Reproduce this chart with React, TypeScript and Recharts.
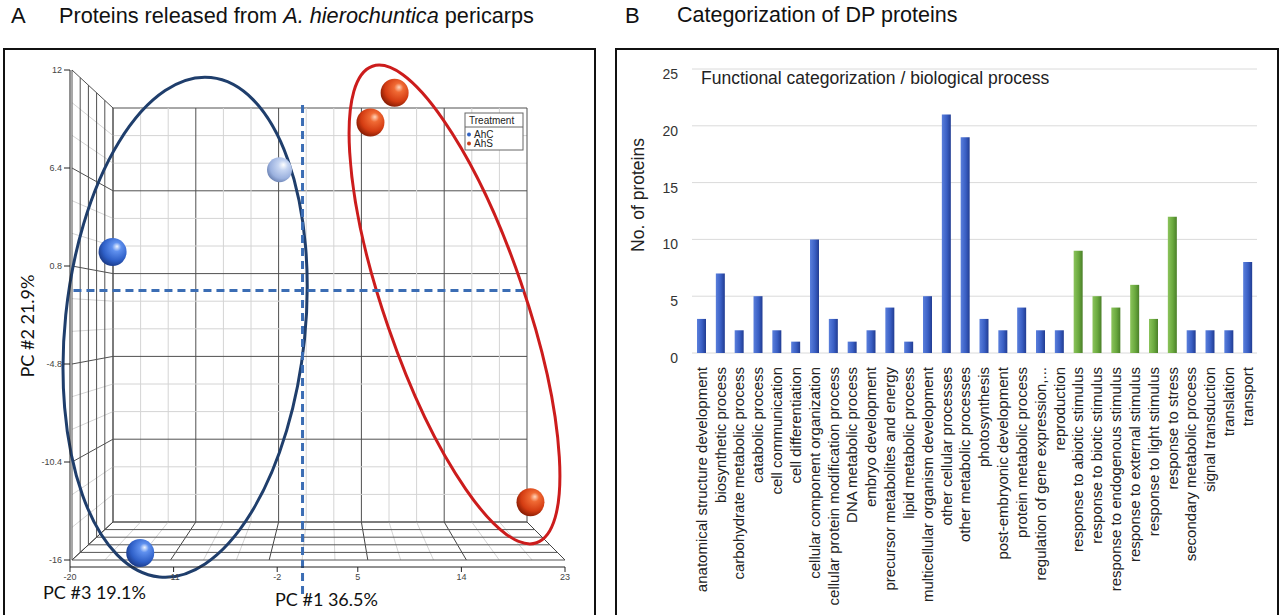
import {
  ScatterChart,
  Scatter,
  BarChart,
  Bar,
  Cell,
  XAxis,
  YAxis,
  CartesianGrid,
  ReferenceLine,
  Customized,
} from "recharts";

// ---- panel A: PCA scores (PC1 / PC2, projected) ----
const pcaGroups = ["AhC", "AhS"];
const ahcSamples = ["AhC1", "AhC2", "AhC3"];
const ahcPC1 = [-16.3, -1.8, -13.9];
const ahcPC2 = [1.6, 6.3, -15.6];
const ahsSamples = ["AhS1", "AhS2", "AhS3"];
const ahsPC1 = [8.2, 6.1, 20.0];
const ahsPC2 = [10.7, 9.0, -12.7];
const pc1Ticks = [-20, -11, -2, 5, 14, 23];
const pc2Ticks = [-16, -10.4, -4.8, 0.8, 6.4, 12];
const pc1Cut = 0.2;
const pc2Cut = -0.6;
const groupCenterPC1 = [-10.0, 13.4];
const groupCenterPC2 = [-2.7, -1.4];

// ---- panel B: DP proteins per biological process ----
const categories = [
  "anatomical structure development",
  "biosynthetic process",
  "carbohydrate metabolic process",
  "catabolic process",
  "cell communication",
  "cell differentiation",
  "cellular component organization",
  "cellular protein modification process",
  "DNA metabolic process",
  "embryo development",
  "precursor metabolites and energy",
  "lipid metabolic process",
  "multicellular organism development",
  "other cellular processes",
  "other metabolic processes",
  "photosynthesis",
  "post-embryonic development",
  "protein metabolic process",
  "regulation of gene expression,...",
  "reproduction",
  "response to abiotic stimulus",
  "response to biotic stimulus",
  "response to endogenous stimulus",
  "response to external stimulus",
  "response to light stimulus",
  "response to stress",
  "secondary metabolic process",
  "signal transduction",
  "translation",
  "transport",
];
const proteinCounts = [
  3, 7, 2, 5, 2, 1, 10, 3, 1, 2, 4, 1, 5, 21, 19, 3, 2, 4, 2, 2, 9, 5, 4, 6, 3,
  12, 2, 2, 2, 8,
];
const countTicks = [0, 5, 10, 15, 20, 25];

const ahcData = ahcSamples.map((s, i) => ({ sample: s, x: ahcPC1[i], y: ahcPC2[i] }));
const ahsData = ahsSamples.map((s, i) => ({ sample: s, x: ahsPC1[i], y: ahsPC2[i] }));
const barData = categories.map((c, i) => ({ category: c, count: proteinCounts[i] }));

// panel A geometry (chart svg sits at page 0,0)
const A_W = 594;
const A_H = 615;
const PX0 = 70;
const PX1 = 565;
const PY0 = 70;
const PY1 = 567;
const xDom: [number, number] = [-20, 23];
const yDom: [number, number] = [-16.4, 12];
const sx = (v: number) => PX0 + ((v - xDom[0]) / (xDom[1] - xDom[0])) * (PX1 - PX0);
const sy = (v: number) => PY1 - ((v - yDom[0]) / (yDom[1] - yDom[0])) * (PY1 - PY0);
const lerp = (a: number, b: number, t: number) => a + (b - a) * t;

const SANS = "'Liberation Sans', Arial, sans-serif";
const CAL = "Lato, 'Open Sans', sans-serif";

const Box3D = () => {
  const out: any[] = [];
  const major = "#505050";
  const minor = "#d4d4d4";
  // back wall
  for (let i = 0; i <= 15; i++) {
    const c = i % 3 === 0 ? major : minor;
    const x = lerp(113, 527, i / 15);
    const y = lerp(108, 522, i / 15);
    out.push(<line key={"bv" + i} x1={x} y1={108} x2={x} y2={522} stroke={c} />);
    out.push(<line key={"bh" + i} x1={113} y1={y} x2={527} y2={y} stroke={c} />);
  }
  // left wall
  for (let i = 0; i <= 15; i++) {
    const c = i % 3 === 0 ? major : minor;
    out.push(
      <line key={"lh" + i} x1={72} y1={lerp(70, 560, i / 15)} x2={113} y2={lerp(108, 522, i / 15)} stroke={c} />
    );
  }
  for (let j = 0; j <= 5; j++) {
    const f = j / 5;
    out.push(
      <line key={"lv" + j} x1={lerp(72, 113, f)} y1={lerp(70, 108, f)} x2={lerp(72, 113, f)} y2={lerp(560, 522, f)} stroke={major} />
    );
  }
  // floor
  for (let i = 0; i <= 15; i++) {
    const c = i % 3 === 0 ? "#444" : minor;
    out.push(
      <line key={"fd" + i} x1={lerp(113, 527, i / 15)} y1={522} x2={lerp(72, 565, i / 15)} y2={560} stroke={c} />
    );
  }
  for (let j = 0; j <= 5; j++) {
    const f = j / 5;
    out.push(
      <line key={"fh" + j} x1={lerp(113, 72, f)} y1={lerp(522, 560, f)} x2={lerp(527, 565, f)} y2={lerp(522, 560, f)} stroke="#555" />
    );
  }
  return (
    <g>
      <defs>
        <radialGradient id="sphBlue" cx="60%" cy="38%" r="65%" fx="66%" fy="30%">
          <stop offset="0%" stopColor="#eef4ff" />
          <stop offset="25%" stopColor="#5f90ee" />
          <stop offset="70%" stopColor="#2f60c8" />
          <stop offset="100%" stopColor="#1a3a88" />
        </radialGradient>
        <radialGradient id="sphPale" cx="60%" cy="38%" r="65%" fx="66%" fy="30%">
          <stop offset="0%" stopColor="#ffffff" />
          <stop offset="30%" stopColor="#c6d5f2" />
          <stop offset="75%" stopColor="#9cb2df" />
          <stop offset="100%" stopColor="#6d84b4" />
        </radialGradient>
        <radialGradient id="sphRed" cx="60%" cy="38%" r="65%" fx="66%" fy="30%">
          <stop offset="0%" stopColor="#ffd6bc" />
          <stop offset="25%" stopColor="#f06a34" />
          <stop offset="70%" stopColor="#d43c12" />
          <stop offset="100%" stopColor="#861c04" />
        </radialGradient>
      </defs>
      {out}
    </g>
  );
};

const GroupEllipses = () => (
  <g fill="none" strokeWidth={3}>
    <ellipse
      cx={sx(groupCenterPC1[0])}
      cy={sy(groupCenterPC2[0])}
      rx={120}
      ry={251}
      stroke="#1f3e6c"
      transform={`rotate(5.9 ${sx(groupCenterPC1[0])} ${sy(groupCenterPC2[0])})`}
    />
    <ellipse
      cx={sx(groupCenterPC1[1])}
      cy={sy(groupCenterPC2[1])}
      rx={70}
      ry={252}
      stroke="#cc1c1c"
      transform={`rotate(-19 ${sx(groupCenterPC1[1])} ${sy(groupCenterPC2[1])})`}
    />
  </g>
);

const PcaLabels = () => (
  <g>
    <rect x={465} y={113} width={58} height={37} fill="#fff" stroke="#666" />
    <line x1={465} y1={127} x2={523} y2={127} stroke="#666" />
    <text x={469} y={124} fontSize={10} fontFamily={SANS} fill="#222">Treatment</text>
    {pcaGroups.map((g, i) => (
      <g key={g}>
        <circle cx={469} cy={134.5 + i * 9} r={2} fill={i === 0 ? "#3264c4" : "#c8401c"} />
        <text x={474} y={138 + i * 9} fontSize={10} fontFamily={SANS} fill="#222">{g}</text>
      </g>
    ))}
    <text
      x={27}
      y={326}
      fontSize={18}
      fontFamily={CAL}
      fill="#111"
      textAnchor="middle"
      dominantBaseline="central"
      transform="rotate(-90 27 326)"
    >
      PC #2 21.9%
    </text>
    <text x={43} y={599} fontSize={18} fontFamily={CAL} fill="#111">PC #3 19.1%</text>
    <text x={275} y={606} fontSize={18} fontFamily={CAL} fill="#111">PC #1 36.5%</text>
  </g>
);

const sphere = (props: any) => {
  const { cx, cy, payload } = props;
  const id = payload.sample.startsWith("AhS") ? "sphRed" : payload.sample === "AhC2" ? "sphPale" : "sphBlue";
  return <circle cx={cx} cy={cy} r={payload.sample === "AhC2" ? 12.5 : 14} fill={`url(#${id})`} />;
};

const CategoryTick = (props: any) => {
  const { x, y, payload } = props;
  return (
    <g transform={`translate(${x},${y + 12})`}>
      <text
        x={0}
        y={0}
        dy="0.35em"
        textAnchor="end"
        transform="rotate(-90)"
        fontSize={15}
        fontFamily={SANS}
        fill="#222"
      >
        {payload.value}
      </text>
    </g>
  );
};

const BarTexts = () => (
  <g fontFamily={SANS} fill="#222">
    <text x={87} y={34} fontSize={17.5}>Functional categorization / biological process</text>
    <text
      x={24}
      y={145}
      fontSize={17.5}
      textAnchor="middle"
      dominantBaseline="central"
      transform="rotate(-90 24 145)"
    >
      No. of proteins
    </text>
  </g>
);

export default function App() {
  return (
    <div
      style={{
        position: "absolute",
        left: 0,
        top: 0,
        width: 1282,
        height: 615,
        background: "#fff",
        overflow: "hidden",
        fontFamily: SANS,
      }}
    >
      <div style={{ position: "absolute", left: 11, top: 3, fontSize: 22, color: "#111" }}>A</div>
      <div style={{ position: "absolute", left: 59, top: 3, fontSize: 21.7, color: "#111", whiteSpace: "nowrap" }}>
        Proteins released from <i>A. hierochuntica</i> pericarps
      </div>
      <div style={{ position: "absolute", left: 625, top: 3, fontSize: 22, color: "#111" }}>B</div>
      <div style={{ position: "absolute", left: 677, top: 3, fontSize: 21.5, color: "#111", whiteSpace: "nowrap" }}>
        Categorization of DP proteins
      </div>

      <div style={{ position: "absolute", left: 0, top: 0 }}>
        <ScatterChart width={A_W} height={A_H} margin={{ top: 70, right: A_W - PX1, bottom: 0, left: 0 }}>
          <Customized component={<Box3D />} />
          <XAxis
            type="number"
            dataKey="x"
            domain={xDom}
            ticks={pc1Ticks}
            height={A_H - PY1}
            allowDataOverflow
            stroke="#222"
            tickSize={5}
            tickMargin={2}
            tick={{ fontSize: 9, fill: "#444", fontFamily: SANS }}
          />
          <YAxis
            type="number"
            dataKey="y"
            domain={yDom}
            ticks={pc2Ticks}
            width={PX0}
            allowDataOverflow
            stroke="#222"
            tickSize={6}
            tickMargin={2}
            tick={{ fontSize: 9, fill: "#444", fontFamily: SANS }}
          />
          <ReferenceLine
            segment={[{ x: -19.7, y: pc2Cut }, { x: 19.4, y: pc2Cut }]}
            stroke="#3b6db4"
            strokeWidth={3}
            strokeDasharray="8 5"
            ifOverflow="visible"
          />
          <ReferenceLine
            segment={[{ x: pc1Cut, y: 10.0 }, { x: pc1Cut, y: -18.2 }]}
            stroke="#3b6db4"
            strokeWidth={3}
            strokeDasharray="8 5"
            ifOverflow="visible"
          />
          <Scatter name={pcaGroups[0]} data={ahcData} shape={sphere} isAnimationActive={false} />
          <Scatter name={pcaGroups[1]} data={ahsData} shape={sphere} isAnimationActive={false} />
          <Customized component={<GroupEllipses />} />
          <Customized component={<PcaLabels />} />
        </ScatterChart>
      </div>

      <div style={{ position: "absolute", left: 614, top: 50 }}>
        <BarChart width={666} height={565} data={barData} margin={{ top: 19, right: 23, bottom: 0, left: 0 }}>
          <defs>
            <linearGradient id="barBlue" x1="0" y1="0" x2="1" y2="0">
              <stop offset="0%" stopColor="#5a7fdc" />
              <stop offset="55%" stopColor="#3a5fc4" />
              <stop offset="100%" stopColor="#213c92" />
            </linearGradient>
            <linearGradient id="barGreen" x1="0" y1="0" x2="1" y2="0">
              <stop offset="0%" stopColor="#8cc45c" />
              <stop offset="55%" stopColor="#6aa93e" />
              <stop offset="100%" stopColor="#4a7f28" />
            </linearGradient>
          </defs>
          <CartesianGrid vertical={false} stroke="#dadada" />
          <XAxis
            dataKey="category"
            interval={0}
            height={262}
            axisLine={false}
            tickLine={false}
            tickSize={0}
            tick={<CategoryTick />}
          />
          <YAxis
            domain={[0, 25]}
            ticks={countTicks}
            width={78}
            axisLine={false}
            tickLine={false}
            tickSize={0}
            tickMargin={14}
            tick={{ fontSize: 14, fill: "#333", fontFamily: SANS, dy: 5 }}
          />
          <Bar dataKey="count" barSize={9} isAnimationActive={false}>
            {barData.map((d) => (
              <Cell
                key={d.category}
                fill={d.category.startsWith("response to") ? "url(#barGreen)" : "url(#barBlue)"}
              />
            ))}
          </Bar>
          <Customized component={<BarTexts />} />
        </BarChart>
      </div>

      <div style={{ position: "absolute", left: 3, top: 48, width: 589, height: 600, border: "2px solid #111", pointerEvents: "none" }} />
      <div style={{ position: "absolute", left: 615, top: 48, width: 660, height: 600, border: "2px solid #111", pointerEvents: "none" }} />
    </div>
  );
}
